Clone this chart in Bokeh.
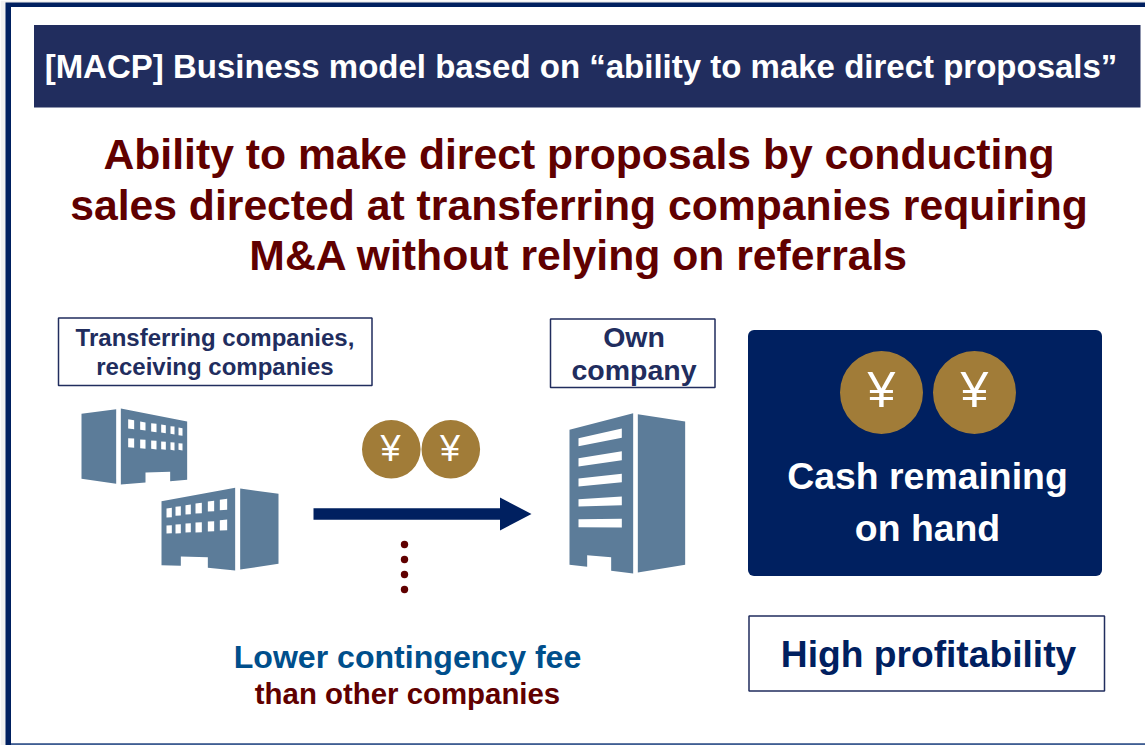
from bokeh.plotting import figure
from bokeh.embed import file_html
from bokeh.resources import INLINE
from bokeh.core.properties import value

FONT = "Liberation Sans"
NAVY = "#002060"
BAR = "#212D5E"
MAROON = "#600000"
STEEL = "#5C7C99"
GOLD = "#A17C38"
BLUE = "#004F8C"

title_text = "[MACP] Business model based on \u201cability to make direct proposals\u201d"
heading_lines = ["Ability to make direct proposals by conducting",
                 "sales directed at transferring companies requiring",
                 "M&A without relying on referrals"]
left_box_lines = ["Transferring companies,", "receiving companies"]
own_box_lines = ["Own", "company"]
cash_lines = ["Cash remaining", "on hand"]
profit_text = "High profitability"
fee_text = "Lower contingency fee"
other_text = "than other companies"
yen = "\u00a5"

p = figure(width=1145, height=745, x_range=(0, 1145), y_range=(745, 0),
           output_backend="svg", toolbar_location=None, min_border=0,
           background_fill_color="#FFFFFF",
           border_fill_color="#FFFFFF", outline_line_color=None)
p.axis.visible = False
p.grid.visible = False


def text(x, y, s, size, color, weight="bold", font=FONT):
    p.text([x], [y - 0.375 * size], text=[s], text_font=value(font), text_font_size=f"{size}px",
           text_font_style=weight, text_color=color, text_align="center",
           text_baseline="alphabetic")


def poly(pts, ox, oy, color):
    p.patch([ox + a / 3 for a, _ in pts], [oy + b / 3 for _, b in pts],
            fill_color=color, line_color=None)


def box(l, r, t, b, fill=None, line=None, w=1.5, radius=0):
    p.quad(left=[l], right=[r], top=[t], bottom=[b], fill_color=fill,
           line_color=line, line_width=w, border_radius=radius)


# page frame
box(0, 1145, 0, 745, fill="#F0F0F0")
box(5, 1145, 2, 745, fill=NAVY)
box(10.5, 1145, 6.5, 743, fill="#FFFFFF")
box(10.5, 1145, 743, 745, fill="#3F5F94")

# title bar
box(33.5, 1140, 24.5, 107, fill=BAR)
text(580.5, 78, title_text, 33, "#FFFFFF")

# heading
for line, y in zip(heading_lines, [169.5, 220.5, 271]):
    text(578.5, y, line, 42.7, MAROON)

# label boxes
box(58, 371.5, 317.5, 385, fill="#FFFFFF", line=BAR)
for line, y in zip(left_box_lines, [346, 375]):
    text(214.5, y, line, 24, BAR)
box(550, 714.5, 318.5, 387, fill="#FFFFFF", line=BAR)
for line, y in zip(own_box_lines, [347.5, 380]):
    text(633.5, y, line, 28.5, BAR)

# buildings
o1 = (60, 400)
poly([(63, 40), (167, 26), (167, 250), (63, 235)], *o1, STEEL)
poly([(181, 24), (380, 63), (380, 238), (329, 242), (329, 214), (255, 216), (255, 246), (181, 252)], *o1, STEEL)
for w in [(203, 56, 221, 59, 86), (239, 63, 255, 66, 90), (272, 68, 288, 70, 95), (302, 72, 316, 74, 98),
          (330, 77, 342, 78, 102), (354, 81, 366, 83, 106), (203, 113, 221, 114, 142), (239, 117, 255, 118, 145),
          (272, 120, 288, 121, 147), (302, 123, 316, 124, 148), (330, 125, 342, 126, 150), (354, 128, 366, 129, 150)]:
    poly([(w[0], w[1]), (w[2], w[3]), (w[2], w[4]), (w[0], w[4] - 2)], *o1, "#FFFFFF")

poly([(303, 302), (524, 262), (524, 510), (442, 502), (442, 470), (361, 468), (361, 496), (303, 494)], *o1, STEEL)
poly([(539, 264), (654, 280), (654, 490), (539, 507)], *o1, STEEL)
for w in [(318, 324, 334, 322, 351), (345, 319, 361, 317, 346), (375, 314, 391, 312, 342), (405, 309, 424, 307, 339),
          (442, 303, 461, 301, 333), (478, 298, 500, 295, 329), (318, 375, 334, 374, 399), (345, 372, 361, 371, 399),
          (375, 369, 391, 368, 396), (405, 366, 424, 365, 396), (442, 363, 461, 362, 393), (478, 359, 500, 357, 390)]:
    poly([(w[0], w[1]), (w[2], w[3]), (w[2], w[4] - 1), (w[0], w[4])], *o1, "#FFFFFF")

o3 = (540, 400)
poly([(87, 88), (278, 38), (278, 519), (212, 511), (212, 470), (140, 464), (140, 499), (87, 493)], *o3, STEEL)
poly([(292, 41), (434, 63), (434, 493), (292, 516)], *o3, STEEL)
for b in [(113, 84, 112, 137), (173, 152, 179, 198), (234, 220, 245, 258), (296, 288, 314, 318), (356, 355, 381, 380)]:
    poly([(114, b[0]), (244, b[1]), (244, b[2]), (114, b[3])], *o3, "#FFFFFF")

# coins in the flow
p.circle(x=[390.8, 450.3], y=[448.7, 448.7], radius=29.3, fill_color=GOLD, line_color=None)
for x in [390, 449.5]:
    text(x, 461, yen, 36, "#FFFFFF", weight="normal")

# arrow
p.patch([313, 499.5, 499.5, 531, 499.5, 499.5, 313],
        [507.8, 507.8, 497, 513.5, 530, 519.2, 519.2], fill_color=NAVY, line_color=None)

# dots
p.circle(x=[404] * 4, y=[544, 559, 574, 589], radius=3.7, fill_color=MAROON, line_color=None)

# captions
text(407, 669, fee_text, 32.1, BLUE)
text(407, 704, other_text, 29.4, MAROON)

# cash panel
box(747.5, 1101.5, 329.5, 575.5, fill=NAVY, radius=6)
p.circle(x=[881, 974], y=[392, 392], radius=41.5, fill_color=GOLD, line_color=None)
for x in [881, 974]:
    text(x, 408, yen, 50, "#FFFFFF", weight="normal")
for line, y in zip(cash_lines, [489.5, 541.5]):
    text(927, y, line, 37.4, "#FFFFFF")

# profitability box
box(748.5, 1104, 615.5, 690.5, fill="#FFFFFF", line=BAR)
text(928, 667, profit_text, 37.2, NAVY)

open("out.html", "w").write(file_html(p, INLINE))
